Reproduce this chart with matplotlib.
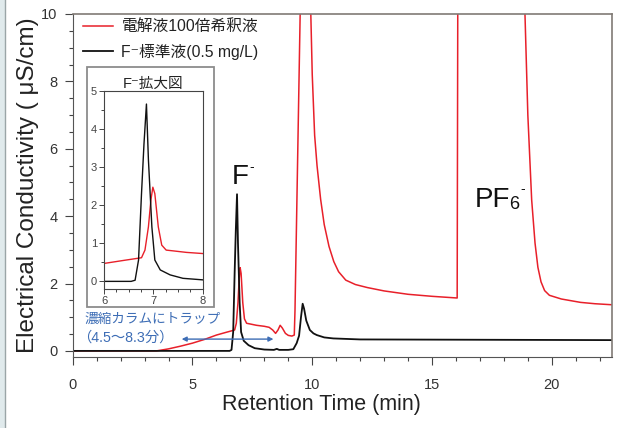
import matplotlib
matplotlib.use("Agg")
import matplotlib.pyplot as plt
from matplotlib.patches import Rectangle
from matplotlib.lines import Line2D

plt.rcParams['font.family'] = ['Liberation Sans', 'Noto Sans CJK JP', 'DejaVu Sans']

# red: electrolyte diluted 100x
red_t = [0, 3.5, 4.0, 4.5, 5.0, 5.5, 6.0, 6.4, 6.76, 6.83, 6.9, 6.95, 6.99, 7.03, 7.1,
         7.17, 7.26, 7.4, 7.67, 8.0, 8.2, 8.35, 8.47, 8.57, 8.66, 8.75, 8.88, 9.0, 9.15,
         9.25, 9.28, 9.52, 9.9, 9.94, 10.0, 10.1, 10.2, 10.35, 10.5, 10.7, 10.9, 11.1,
         11.4, 11.8, 12.3, 13.0, 14.0, 15.0, 16.05,
         16.08, 18.87, 18.88, 19.0, 19.16, 19.3, 19.42, 19.55, 19.7, 19.9, 20.4, 21.2,
         21.8, 22.5]
red_v = [0, 0, 0.06, 0.14, 0.23, 0.34, 0.47, 0.55, 0.62, 0.82, 1.43, 2.13, 2.47, 2.3, 1.43,
         0.95, 0.82, 0.8, 0.76, 0.73, 0.7, 0.62, 0.52, 0.62, 0.76, 0.68, 0.52, 0.46, 0.44,
         0.47, 1.2, 11, 11, 10.0, 8.2, 6.4, 5.5, 4.5, 3.75, 3.1, 2.65, 2.35,
         2.1, 1.97, 1.88, 1.78, 1.68, 1.62, 1.57,
         12, 12, 10.0, 7.0, 4.48, 3.2, 2.48, 2.05, 1.79, 1.65, 1.54, 1.44,
         1.4, 1.37]

# black: F- standard 0.5 mg/L
black_t = [0, 6.55, 6.63, 6.7, 6.76, 6.81, 6.86, 6.9, 6.97, 7.03, 7.14, 7.34, 7.6, 8.0,
           8.4, 8.52, 8.62, 9.0, 9.21, 9.35, 9.45, 9.53, 9.6, 9.66, 9.75, 9.9, 10.05,
           10.19, 10.5, 10.88, 12, 22.5]
black_v = [0, 0, 0.03, 0.56, 2.3, 3.6, 4.65, 3.19, 1.43, 0.56, 0.3, 0.17, 0.08, 0.04,
           0.03, 0.06, 0.03, 0.03, 0.05, 0.23, 0.45, 1.0, 1.4, 1.25, 0.9, 0.62, 0.52,
           0.47, 0.4, 0.37, 0.34, 0.32]

RED = '#e8202a'
BLACK = '#111111'
BLUE = '#3d6db5'

fig = plt.figure(figsize=(6.25, 4.28), dpi=100)
fig.patches.append(Rectangle((0, 0), 4.5 / 625, 1, transform=fig.transFigure,
                             facecolor='#e0eaec', edgecolor='none'))
fig.lines.append(Line2D([4.5 / 625, 4.5 / 625], [0, 1], transform=fig.transFigure,
                        color='#9aa5a7', lw=1))

ax = fig.add_axes([0.1163, 0.1652, 0.8624, 0.8021])
ax.plot(red_t, red_v, color=RED, lw=1.1, label='電解液100倍希釈液')
ax.plot(black_t, black_v, color=BLACK, lw=1.3, label='F⁻標準液(0.5 mg/L)')
ax.set_xlim(0, 22.5)
ax.set_ylim(-0.19, 10)
ax.set_xticks([0, 5, 10, 15, 20])
ax.set_xticks(range(0, 23), minor=True)
ax.set_yticks([0, 2, 4, 6, 8, 10])
ax.set_yticks([i * 0.5 for i in range(0, 21)], minor=True)
ax.tick_params(which='major', length=6, width=0.8, color='#444', labelcolor='#333',
               labelsize=10.5)
ax.tick_params(which='minor', length=3, width=0.8, color='#444')
ax.tick_params(axis='x', pad=9)
ax.tick_params(axis='y', pad=5)
for s in ['left', 'bottom']:
    ax.spines[s].set_color('#555')
for s in ['top', 'right']:
    ax.spines[s].set_color('#807a75')
    ax.spines[s].set_linewidth(1.2)

ax.set_xlabel('Retention Time (min)', fontsize=15.5, color='#222')
ax.xaxis.set_label_coords(0.462, -0.107)
ax.set_ylabel('Electrical Conductivity ( μS/cm)', fontsize=17.5, color='#222')
ax.yaxis.set_label_coords(-0.062, 0.5)

ax.legend(loc='upper left', bbox_to_anchor=(0.019, 0.985), borderaxespad=0, borderpad=0,
          frameon=False, handlelength=1.9, handletextpad=0.55, labelspacing=0.6,
          fontsize=11.3, labelcolor='#222')

# peak labels
ax.text(6.64, 4.96, 'F', fontsize=20, ha='left', va='baseline', color='#111')
ax.text(7.38, 5.35, '-', fontsize=10, ha='left', va='baseline', color='#111')
ax.text(16.8, 4.28, 'PF', fontsize=20, ha='left', va='baseline', color='#111')
ax.text(18.22, 4.2, '6', fontsize=13, ha='left', va='baseline', color='#111')
ax.text(18.68, 4.69, '-', fontsize=10, ha='left', va='baseline', color='#111')

ax.text(0.51, 0.94, '濃縮カラムにトラップ', fontsize=9.8, color=BLUE, ha='left', va='center')
ax.text(0.2, 0.38, '（4.5～8.3分）', fontsize=10.3, color=BLUE, ha='left', va='center')
ax.annotate('', xy=(8.38, 0.35), xytext=(4.55, 0.35),
            arrowprops=dict(arrowstyle='<|-|>', color=BLUE, lw=1, mutation_scale=7,
                            shrinkA=0, shrinkB=0))

# inset frame and zoomed axes
frame = Rectangle((86.7 / 625, 1 - 306.7 / 428), (214 - 86.7) / 625,
                  (306.7 - 66.5) / 428, transform=fig.transFigure,
                  facecolor='white', edgecolor='#8c8c8c', lw=1.3, zorder=2)
fig.patches.append(frame)
axin = fig.add_axes([104 / 625, 1 - 289 / 428, (202.7 - 104) / 625, (289 - 90.7) / 428])
axin.set_zorder(3)
axin.plot(red_t, red_v, color=RED, lw=1.0)
axin.plot(black_t, black_v, color=BLACK, lw=1.0)
axin.set_xlim(6, 8)
axin.set_ylim(-0.2, 5)
axin.set_xticks([6, 7, 8])
axin.set_xticks([6 + 0.25 * i for i in range(9)], minor=True)
axin.set_yticks([0, 1, 2, 3, 4, 5])
axin.set_yticks([0.5 * i for i in range(11)], minor=True)
axin.tick_params(which='major', length=3.5, width=0.7, color='#444', labelcolor='#444',
                 labelsize=8, pad=1.5)
axin.tick_params(which='minor', length=2, width=0.7, color='#444')
for s in axin.spines.values():
    s.set_color('#444')
    s.set_linewidth(0.8)
axin.set_title('F⁻拡大図', fontsize=10.5, pad=2, color='#222')

fig.savefig('out.png', dpi=100)
